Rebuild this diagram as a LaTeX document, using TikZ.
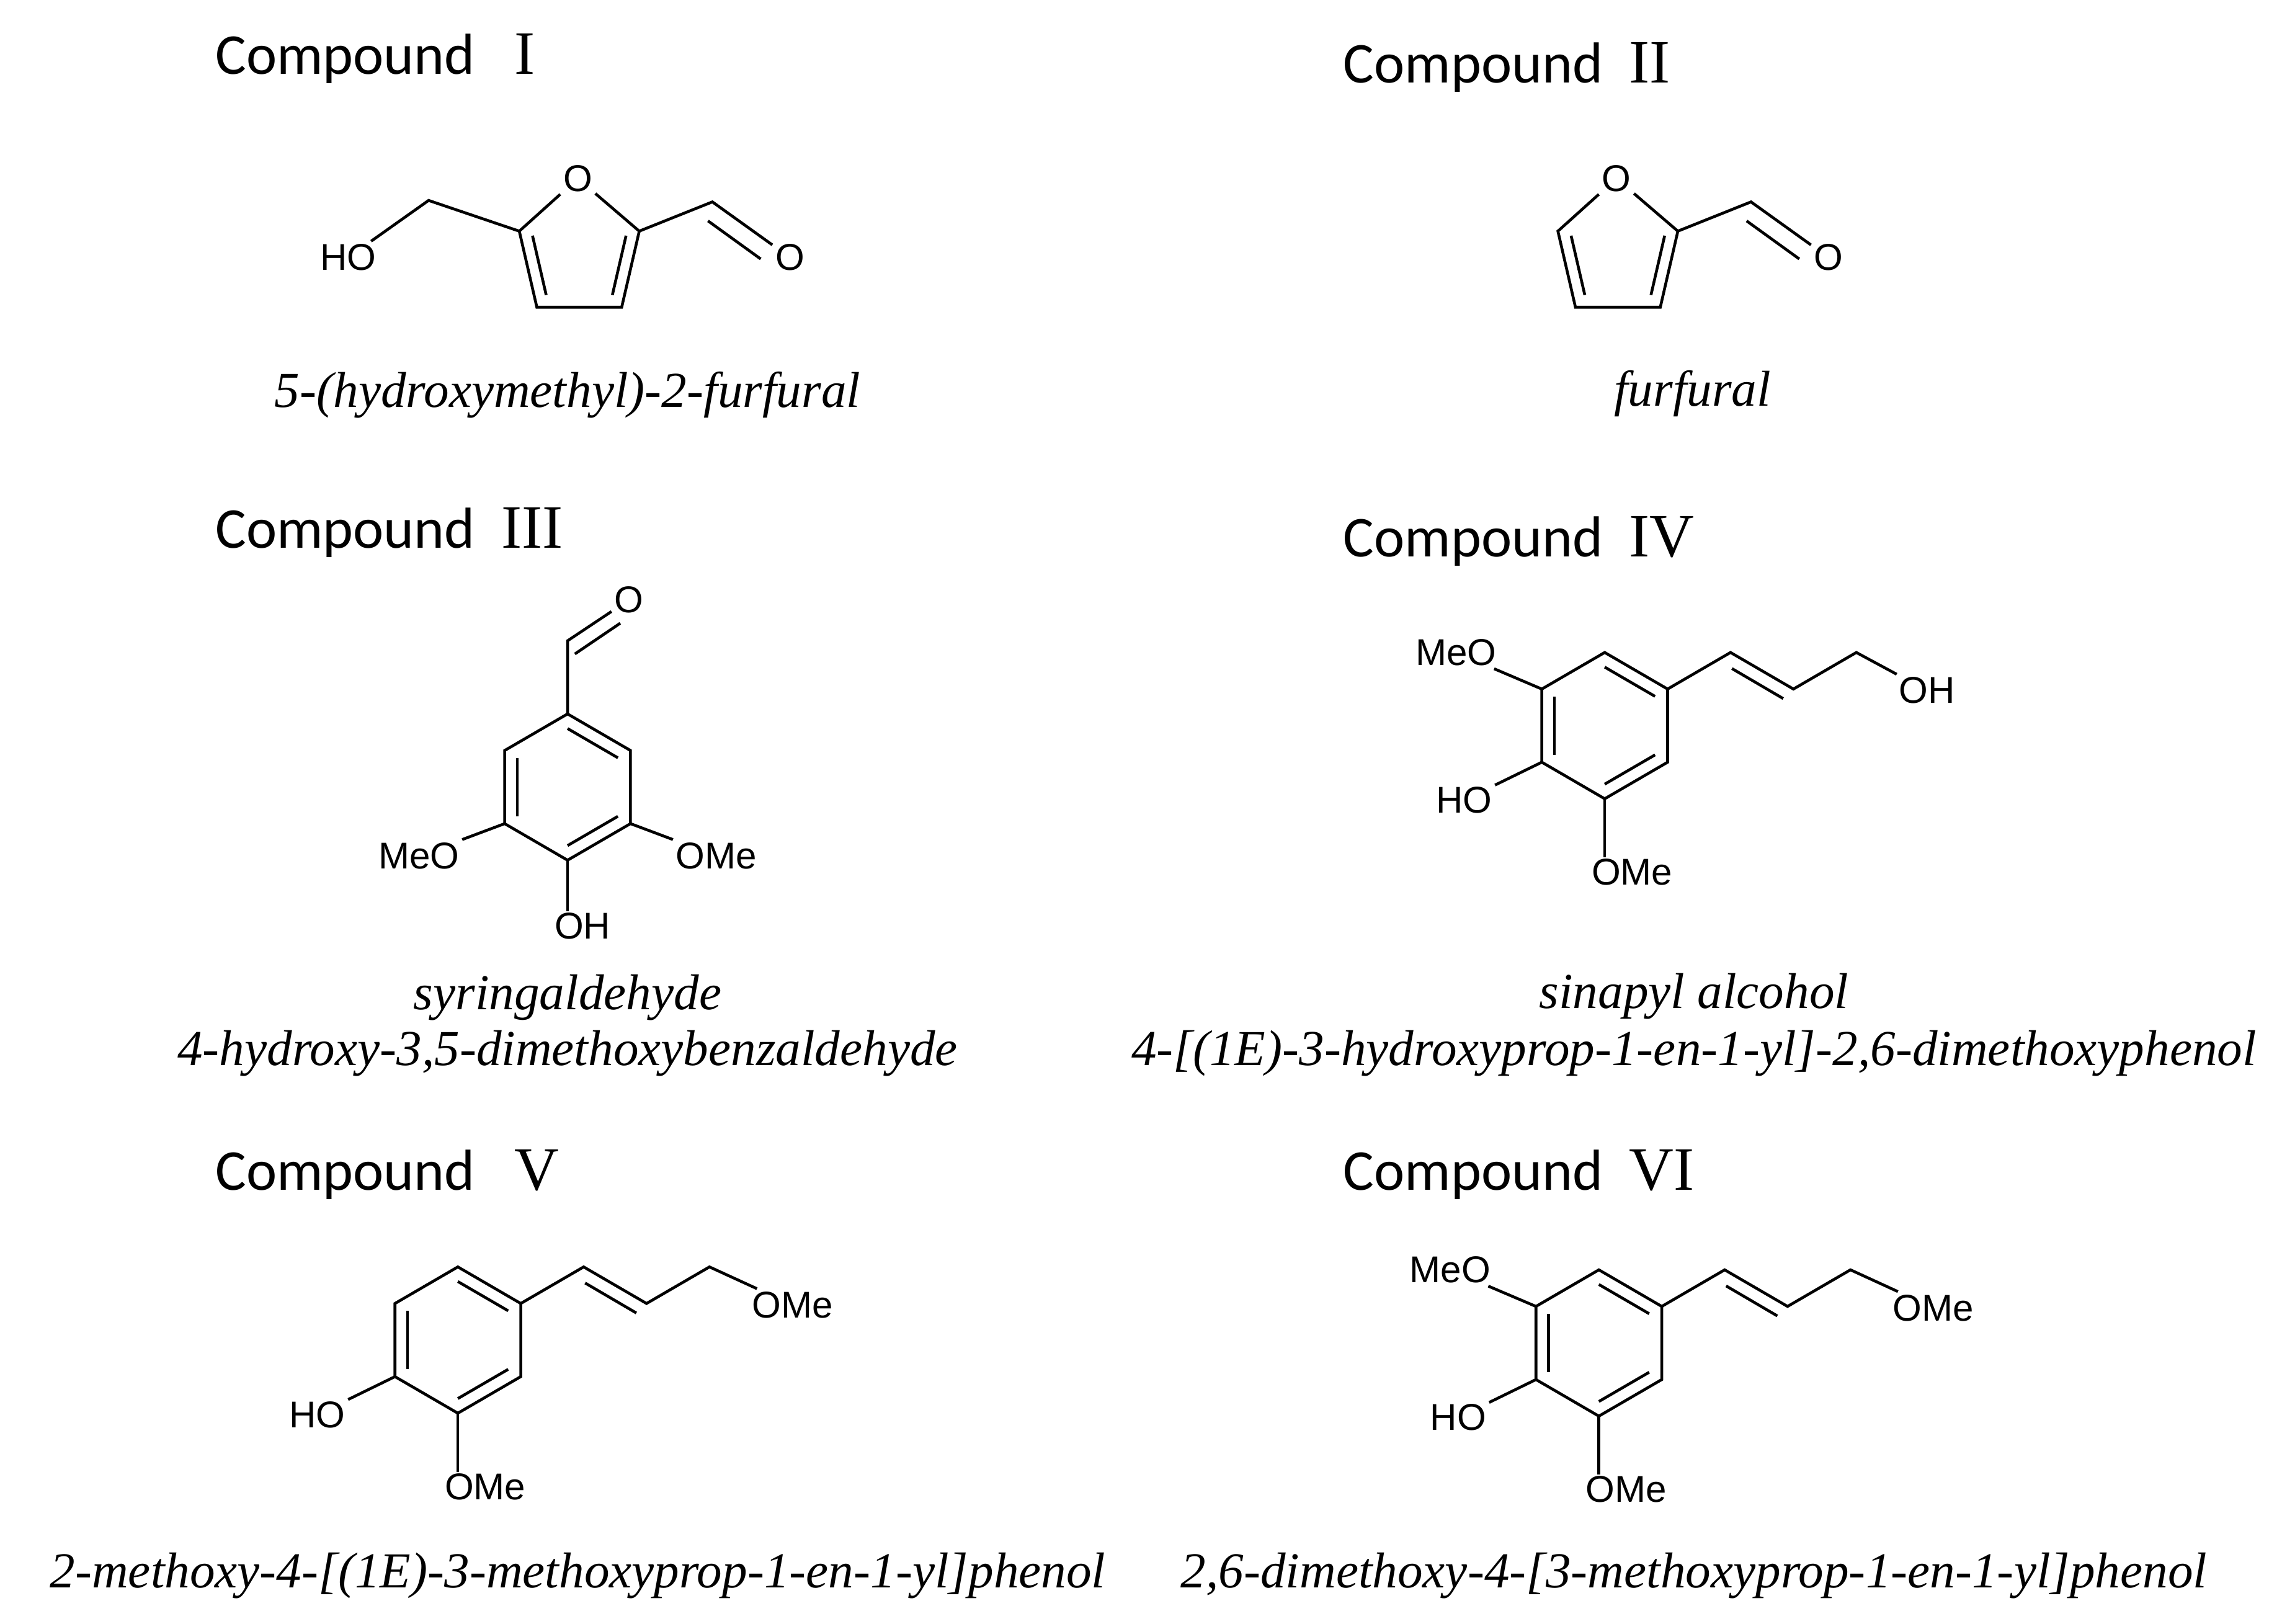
\documentclass[tikz,border=0pt]{standalone}
\usepackage{fontspec}
\setmainfont{Liberation Serif}
\newfontfamily\atomf{Liberation Sans}
\newfontfamily\ttlf{Carlito}
\newfontfamily\romf{Liberation Serif}
\usetikzlibrary{calc}
\tikzset{
 bond/.style={line width=1.1pt},
 atom/.style={font=\atomf\fontsize{14.5}{16}\selectfont, inner sep=1pt},
 ttl/.style={anchor=west, font=\ttlf\fontsize{22.5}{26}\selectfont, inner sep=0pt},
 nm/.style={font=\itshape\fontsize{19.6}{24}\selectfont, inner sep=0pt},
}
\newcommand\rnum[1]{{\romf\fontsize{24}{26}\selectfont #1}}
\newcommand\mkring[1]{%
 \coordinate (#1t) at (0,0); \coordinate (#1ur) at (43,25); \coordinate (#1lr) at (43,75);
 \coordinate (#1b) at (0,100); \coordinate (#1ll) at (-43,75); \coordinate (#1ul) at (-43,25);
 \coordinate (#1c) at (0,50);
 \draw[bond] (#1t)--(#1ur)--(#1lr)--(#1b)--(#1ll)--(#1ul)--cycle;
 \draw[bond] ($(#1t)!0.2!(#1c)$)--($(#1ur)!0.2!(#1c)$);
 \draw[bond] ($(#1lr)!0.2!(#1c)$)--($(#1b)!0.2!(#1c)$);
 \draw[bond] ($(#1ll)!0.2!(#1c)$)--($(#1ul)!0.2!(#1c)$);
}
\newcommand\mkchain[2]{%
 \coordinate (#1a1) at (86,0); \coordinate (#1a2) at (129,25); \coordinate (#1a3) at (172,0);
 \coordinate (#1d1) at (87,11); \coordinate (#1d2) at (122,31.5);
 \node[atom,anchor=west] (#1x) at (199,26) {#2};
 \draw[bond] (#1ur)--(#1a1)--(#1a2)--(#1a3)--(#1x);
 \draw[bond] (#1d1)--(#1d2);
}
\newcommand\mkfuran[1]{%
 \node[atom] (#1o) at (0,0) {O};
 \coordinate (#1c5) at (-40,36); \coordinate (#1c4) at (-28,88);
 \coordinate (#1c3) at (30,88); \coordinate (#1c2) at (42,36); \coordinate (#1c) at (1,50);
 \draw[bond] (#1o)--(#1c5)--(#1c4)--(#1c3)--(#1c2)--(#1o);
 \draw[bond] ($(#1c5)!0.22!(#1c)$)--($(#1c4)!0.22!(#1c)$);
 \draw[bond] ($(#1c2)!0.22!(#1c)$)--($(#1c3)!0.22!(#1c)$);
 \coordinate (#1cho) at (92,16);
 \node[atom] (#1oo) at (145,54) {O};
 \draw[bond] (#1c2)--(#1cho)--(#1oo);
 \draw[bond] (89,29)--(125,55);
}
\begin{document}
\begin{tikzpicture}[x=0.02cm,y=-0.02cm]
\useasboundingbox (0,0) rectangle (1560,1110);
% titles
\node[ttl] (t1) at (147,40) {Compound\ \ \ \rnum{I}};
\node[ttl] (t2) at (918,46) {Compound\ \ \rnum{II}};
\node[ttl] (t3) at (147,364) {Compound\ \ \rnum{III}};
\node[ttl] (t4) at (918,370) {Compound\ \ \rnum{IV}};
\node[ttl] (t5) at (147,803) {Compound\ \ \ \rnum{V}};
\node[ttl] (t6) at (918,803) {Compound\ \ \rnum{VI}};
% compound I
\begin{scope}[shift={(395,122)}]
 \mkfuran{a}
 \coordinate (ach2) at (-102,15);
 \node[atom] (aho) at (-157,54) {HO};
 \draw[bond] (ac5)--(ach2)--(aho);
\end{scope}
\node[nm] (n1) at (388,270) {5-(hydroxymethyl)-2-furfural};
% compound II
\begin{scope}[shift={(1105,122)}]
 \mkfuran{b}
\end{scope}
\node[nm] (n2) at (1157,269) {furfural};
% compound III
\begin{scope}[shift={(388,488)}]
 \mkring{c}
 \coordinate (ccho) at (0,-50);
 \node[atom] (co) at (42,-78) {O};
 \draw[bond] (ct)--(ccho)--(co);
 \draw[bond] (5,-41)--(36,-62);
 \node[atom,anchor=east] (cmeo) at (-72,97) {MeO};
 \node[atom,anchor=west] (come) at (72,97) {OMe};
 \node[atom,anchor=north west] (coh) at (-11,134) {OH};
 \draw[bond] (cll)--(cmeo);
 \draw[bond] (clr)--(come);
 \draw[bond] (cb)--(0,135);
\end{scope}
\node[nm] (n3a) at (388,682) {syringaldehyde};
\node[nm] (n3b) at (388,720) {4-hydroxy-3,5-dimethoxybenzaldehyde};
% compound IV
\begin{scope}[shift={(1097,446)}]
 \mkring{d}
 \mkchain{d}{OH}
 \node[atom,anchor=east] (dmeo) at (-72,0) {MeO};
 \node[atom,anchor=east] (dho) at (-75,101) {HO};
 \node[atom,anchor=north west] (dome) at (-11,139) {OMe};
 \draw[bond] (dul)--(dmeo);
 \draw[bond] (dll)--(dho);
 \draw[bond] (db)--(0,140);
\end{scope}
\node[nm] (n4a) at (1158,681) {sinapyl alcohol};
\node[nm] (n4b) at (1158,720) {4-[(1E)-3-hydroxyprop-1-en-1-yl]-2,6-dimethoxyphenol};
% compound V
\begin{scope}[shift={(313,866)}]
 \mkring{e}
 \mkchain{e}{OMe}
 \node[atom,anchor=east] (eho) at (-75,101) {HO};
 \node[atom,anchor=north west] (eome) at (-11,139) {OMe};
 \draw[bond] (ell)--(eho);
 \draw[bond] (eb)--(0,140);
\end{scope}
\node[nm] (n5) at (395,1077) {2-methoxy-4-[(1E)-3-methoxyprop-1-en-1-yl]phenol};
% compound VI
\begin{scope}[shift={(1093,868)}]
 \mkring{f}
 \mkchain{f}{OMe}
 \node[atom,anchor=east] (fmeo) at (-72,0) {MeO};
 \node[atom,anchor=east] (fho) at (-75,101) {HO};
 \node[atom,anchor=north west] (fome) at (-11,139) {OMe};
 \draw[bond] (ful)--(fmeo);
 \draw[bond] (fll)--(fho);
 \draw[bond] (fb)--(0,140);
\end{scope}
\node[nm] (n6) at (1158,1077) {2,6-dimethoxy-4-[3-methoxyprop-1-en-1-yl]phenol};
\end{tikzpicture}
\end{document}
